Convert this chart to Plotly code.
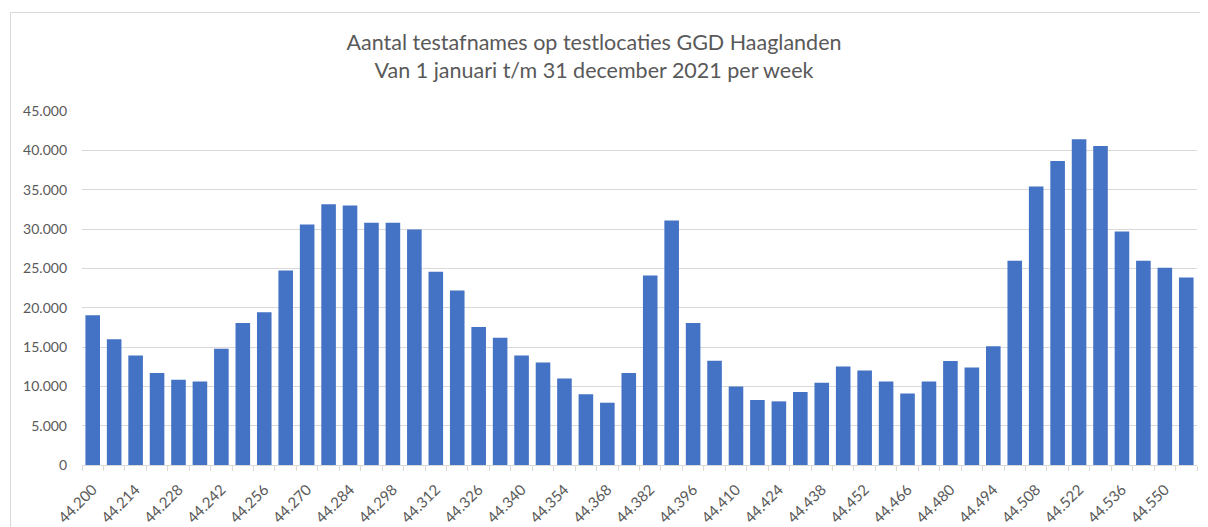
import plotly.graph_objects as go

# Week start dates (Excel serial numbers) and weekly test counts
weeks = [44200 + 7 * i for i in range(52)]
week_labels = [f"{w:,}".replace(",", ".") for w in weeks]
tests = [19050, 16000, 13930, 11690, 10840, 10630, 14780, 18040, 19430, 24720,
         30570, 33150, 32980, 30780, 30780, 29930, 24560, 22180, 17530, 16170,
         13930, 13040, 11010, 8980, 7920, 11690, 24090, 31080, 18040, 13250,
         9990, 8260, 8090, 9270, 10460, 12530, 12020, 10630, 9100, 10630,
         13210, 12400, 15110, 25950, 35390, 38650, 41410, 40560, 29680, 25950,
         25060, 23840]
y_ticks = [0, 5000, 10000, 15000, 20000, 25000, 30000, 35000, 40000, 45000]
title_lines = ["Aantal testafnames op testlocaties GGD Haaglanden",
               "Van 1 januari t/m 31 december 2021 per week"]

tick_text = [lab if i % 2 == 0 else "" for i, lab in enumerate(week_labels)]

# page body has an 8px margin; figure sized to fit the window
W, H = 1200, 519
ml, mr, mt, mb = 74, 11, 103, 62
pw = W - ml - mr
ph = H - mt - mb

fig = go.Figure(go.Bar(x=week_labels, y=tests, marker=dict(color="#4472C4",
                       line=dict(width=0))))

font = "Lato, 'Open Sans', sans-serif"
fig.update_layout(
    width=W, height=H,
    margin=dict(l=ml, r=mr, t=mt, b=mb, autoexpand=False),
    paper_bgcolor="white", plot_bgcolor="white",
    separators=",.",
    bargap=0.32,
    showlegend=False,
    font=dict(family=font, color="#595959"),
    title=dict(text="<br>".join(title_lines), x=586 / W, xref="container",
               xanchor="center", y=1 - 42 / H, yanchor="top",
               font=dict(size=21.5, color="#595959", family=font)),
    xaxis=dict(type="category", tickmode="array", tickvals=week_labels,
               ticktext=tick_text, tickangle=-45, tickson="boundaries",
               ticks="outside", ticklen=5, tickcolor="#d9d9d9",
               showline=True, linecolor="#d9d9d9", linewidth=1,
               showgrid=False, tickfont=dict(size=15, color="#595959"),
               ticklabelstandoff=9, automargin=False,
               range=[-0.5, len(weeks) - 0.5]),
    yaxis=dict(range=[0, 45000], tickvals=y_ticks, tickformat=",d",
               showgrid=True, gridcolor="#d9d9d9", gridwidth=1,
               zeroline=False, showline=False, ticks="",
               ticklabelstandoff=14, automargin=False,
               tickfont=dict(size=14, color="#595959")),
    shapes=[dict(type="rect", xref="paper", yref="paper",
                 x0=(2.5 - ml) / pw, x1=(W + 20 - ml) / pw,
                 y0=-(H + 20 - mt - ph) / ph, y1=(H - mb - 4.5) / ph,
                 line=dict(color="#d9d9d9", width=1), layer="below")],
)

fig.write_html("out.html")
